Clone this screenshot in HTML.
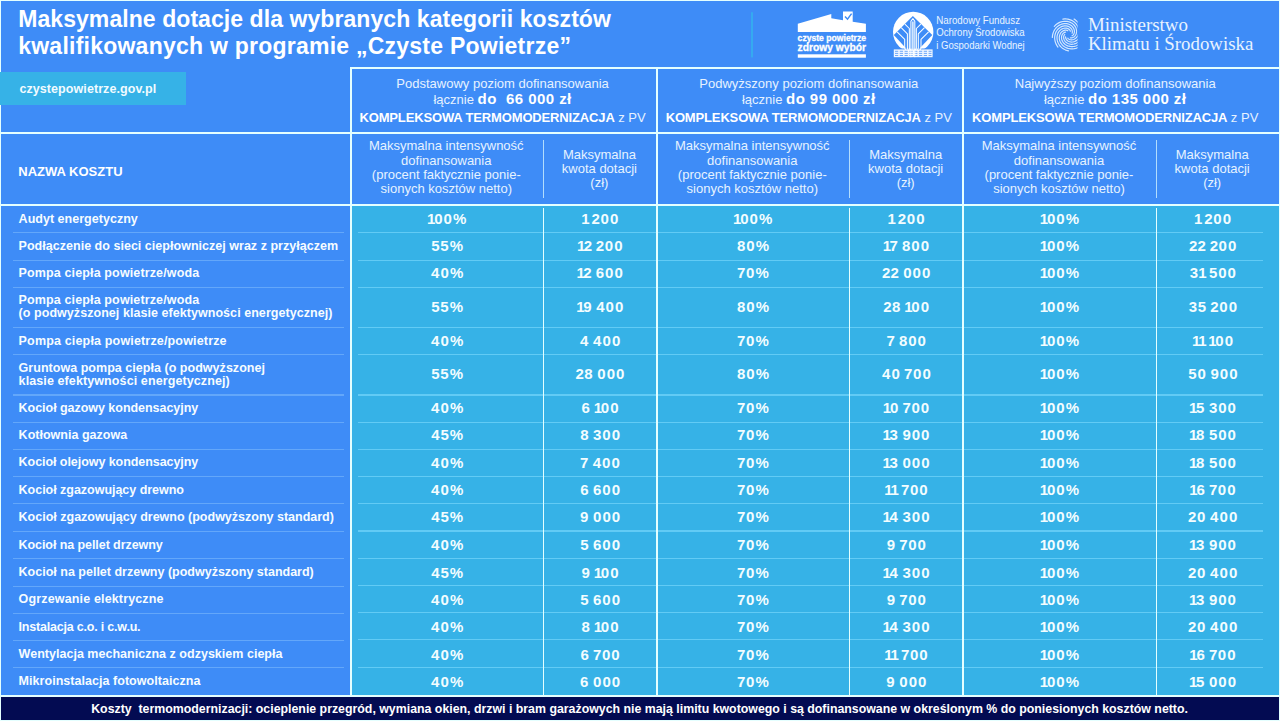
<!DOCTYPE html>
<html lang="pl"><head><meta charset="utf-8"><title>Czyste Powietrze – maksymalne dotacje</title><style>
*{margin:0;padding:0;box-sizing:border-box}
html,body{width:1280px;height:721px;overflow:hidden;background:#3e8cf7}
body{font-family:"Liberation Sans",sans-serif;color:#fff}
#w{position:absolute;left:0;top:0;width:1280px;height:721px;overflow:hidden;background:#3e8cf7}
#w div,#w svg{position:absolute}
.ln{background:#e4ffff}
.t1{left:18.2px;font-weight:bold;font-size:23px;line-height:27px;white-space:nowrap}
.lab{left:18.6px;font-weight:bold;font-size:12.5px;line-height:13.15px;white-space:nowrap;color:#f6fcff}
.num{width:120px;text-align:center;font-weight:bold;font-size:15px;line-height:17px;white-space:nowrap;color:#f3fdff}
.num i{font-style:normal;display:inline-block;text-align:center}
.a{width:9.4px}.d{width:9.2px}.b{width:8.5px}.c{width:6.3px;text-indent:-.3px}.s{width:3.7px}.p{width:14.5px}
.gh{text-align:center;white-space:nowrap;font-size:13px;color:#e6f2ff;width:320px}
.gh b{color:#fff}
.sh{text-align:center;white-space:nowrap;font-size:13px;line-height:14.15px;color:#e6f3ff}
</style></head><body><div id="w">
<div style='left:351px;top:205px;width:929px;height:491px;background:#36b2e7'></div>
<div class='t1' style='top:5.5px;letter-spacing:.07px'>Maksymalne dotacje dla wybranych kategorii kosztów</div>
<div class='t1' style='top:33.3px;letter-spacing:.24px'>kwalifikowanych w programie „Czyste Powietrze”</div>
<div style='left:13px;top:231.95px;width:331px;height:1.1px;background:#63a7fa'></div>
<div style='left:358px;top:231.95px;width:905px;height:1.1px;background:#62cbf5'></div>
<div style='left:13px;top:260.05px;width:331px;height:1.1px;background:#63a7fa'></div>
<div style='left:358px;top:259.95px;width:905px;height:1.1px;background:#62cbf5'></div>
<div style='left:13px;top:286.65px;width:331px;height:1.1px;background:#63a7fa'></div>
<div style='left:358px;top:286.55px;width:905px;height:1.1px;background:#62cbf5'></div>
<div style='left:13px;top:326.95px;width:331px;height:1.1px;background:#63a7fa'></div>
<div style='left:358px;top:326.95px;width:905px;height:1.1px;background:#62cbf5'></div>
<div style='left:13px;top:354.05px;width:331px;height:1.1px;background:#63a7fa'></div>
<div style='left:358px;top:354.05px;width:905px;height:1.1px;background:#62cbf5'></div>
<div style='left:13px;top:394.45px;width:331px;height:1.1px;background:#63a7fa'></div>
<div style='left:358px;top:394.45px;width:905px;height:1.1px;background:#62cbf5'></div>
<div style='left:13px;top:421.65px;width:331px;height:1.1px;background:#63a7fa'></div>
<div style='left:358px;top:421.55px;width:905px;height:1.1px;background:#62cbf5'></div>
<div style='left:13px;top:448.95px;width:331px;height:1.1px;background:#63a7fa'></div>
<div style='left:358px;top:448.95px;width:905px;height:1.1px;background:#62cbf5'></div>
<div style='left:13px;top:475.85px;width:331px;height:1.1px;background:#63a7fa'></div>
<div style='left:358px;top:475.95px;width:905px;height:1.1px;background:#62cbf5'></div>
<div style='left:13px;top:503.05px;width:331px;height:1.1px;background:#63a7fa'></div>
<div style='left:358px;top:503.15px;width:905px;height:1.1px;background:#62cbf5'></div>
<div style='left:13px;top:530.95px;width:331px;height:1.1px;background:#63a7fa'></div>
<div style='left:358px;top:530.45px;width:905px;height:1.1px;background:#62cbf5'></div>
<div style='left:13px;top:557.95px;width:331px;height:1.1px;background:#63a7fa'></div>
<div style='left:358px;top:557.95px;width:905px;height:1.1px;background:#62cbf5'></div>
<div style='left:13px;top:585.65px;width:331px;height:1.1px;background:#63a7fa'></div>
<div style='left:358px;top:585.15px;width:905px;height:1.1px;background:#62cbf5'></div>
<div style='left:13px;top:613.05px;width:331px;height:1.1px;background:#63a7fa'></div>
<div style='left:358px;top:612.25px;width:905px;height:1.1px;background:#62cbf5'></div>
<div style='left:13px;top:639.75px;width:331px;height:1.1px;background:#63a7fa'></div>
<div style='left:358px;top:639.25px;width:905px;height:1.1px;background:#62cbf5'></div>
<div style='left:13px;top:666.95px;width:331px;height:1.1px;background:#63a7fa'></div>
<div style='left:358px;top:666.75px;width:905px;height:1.1px;background:#62cbf5'></div>
<div class='ln' style='left:350px;top:67px;width:930px;height:2px'></div>
<div class='ln' style='left:0;top:132px;width:1280px;height:2px'></div>
<div class='ln' style='left:0;top:204px;width:1280px;height:2px'></div>
<div class='ln' style='left:0;top:695px;width:1280px;height:2px'></div>
<div class='ln' style='left:349.6px;top:67px;width:2.2px;height:629px'></div>
<div class='ln' style='left:656px;top:67px;width:2.2px;height:629px'></div>
<div class='ln' style='left:962px;top:67px;width:2.2px;height:629px'></div>
<div class='ln' style='left:542.85px;top:139.5px;width:1.5px;height:58.5px;opacity:.7'></div>
<div class='ln' style='left:542.85px;top:208px;width:1.5px;height:487px'></div>
<div class='ln' style='left:848.85px;top:139.5px;width:1.5px;height:58.5px;opacity:.7'></div>
<div class='ln' style='left:848.85px;top:208px;width:1.5px;height:487px'></div>
<div class='ln' style='left:1155.65px;top:139.5px;width:1.5px;height:58.5px;opacity:.7'></div>
<div class='ln' style='left:1155.65px;top:208px;width:1.5px;height:487px'></div>
<div class='gh' style='left:342.6px;top:76.3px;line-height:15px'>Podstawowy poziom dofinansowania</div>
<div class='gh' style='left:342.6px;top:89.8px;line-height:18px'>łącznie <b style='font-size:15px;letter-spacing:.45px'>do&nbsp; 66 000 zł</b></div>
<div class='gh' style='left:342.6px;top:110px;line-height:15px'><b style='letter-spacing:-.15px'>KOMPLEKSOWA TERMOMODERNIZACJA</b> z PV</div>
<div class='gh' style='left:648.8px;top:76.3px;line-height:15px'>Podwyższony poziom dofinansowania</div>
<div class='gh' style='left:648.8px;top:89.8px;line-height:18px'>łącznie <b style='font-size:15px;letter-spacing:.45px'>do 99 000 zł</b></div>
<div class='gh' style='left:648.8px;top:110px;line-height:15px'><b style='letter-spacing:-.15px'>KOMPLEKSOWA TERMOMODERNIZACJA</b> z PV</div>
<div class='gh' style='left:955.2px;top:76.3px;line-height:15px'>Najwyższy poziom dofinansowania</div>
<div class='gh' style='left:955.2px;top:89.8px;line-height:18px'>łącznie <b style='font-size:15px;letter-spacing:.45px'>do 135 000 zł</b></div>
<div class='gh' style='left:955.2px;top:110px;line-height:15px'><b style='letter-spacing:-.15px'>KOMPLEKSOWA TERMOMODERNIZACJA</b> z PV</div>
<div class='sh' style='left:346.3px;width:200px;top:139.4px'>Maksymalna intensywność<br>dofinansowania<br>(procent faktycznie ponie-<br>sionych kosztów netto)</div>
<div class='sh' style='left:539.4px;width:120px;top:147.7px'>Maksymalna<br>kwota dotacji<br>(zł)</div>
<div class='sh' style='left:652.3px;width:200px;top:139.4px'>Maksymalna intensywność<br>dofinansowania<br>(procent faktycznie ponie-<br>sionych kosztów netto)</div>
<div class='sh' style='left:845.7px;width:120px;top:147.7px'>Maksymalna<br>kwota dotacji<br>(zł)</div>
<div class='sh' style='left:959.0px;width:200px;top:139.4px'>Maksymalna intensywność<br>dofinansowania<br>(procent faktycznie ponie-<br>sionych kosztów netto)</div>
<div class='sh' style='left:1152.2px;width:120px;top:147.7px'>Maksymalna<br>kwota dotacji<br>(zł)</div>
<div style='left:18.3px;top:164.2px;font-weight:bold;font-size:13px;line-height:15px;white-space:nowrap'>NAZWA KOSZTU</div>
<div class='lab' style='top:212.50px'><span style='letter-spacing:0.024px'>Audyt energetyczny</span></div>
<div class='num' style='left:387.20px;top:210.00px'><i class=c>1</i><i class=a>0</i><i class=a>0</i><i class=p>%</i></div>
<div class='num' style='left:540.15px;top:210.00px'><i class=c>1</i><i class=s> </i><i class=b>2</i><i class=a>0</i><i class=a>0</i></div>
<div class='num' style='left:693.20px;top:210.00px'><i class=c>1</i><i class=a>0</i><i class=a>0</i><i class=p>%</i></div>
<div class='num' style='left:846.40px;top:210.00px'><i class=c>1</i><i class=s> </i><i class=b>2</i><i class=a>0</i><i class=a>0</i></div>
<div class='num' style='left:999.90px;top:210.00px'><i class=c>1</i><i class=a>0</i><i class=a>0</i><i class=p>%</i></div>
<div class='num' style='left:1152.90px;top:210.00px'><i class=c>1</i><i class=s> </i><i class=b>2</i><i class=a>0</i><i class=a>0</i></div>
<div class='lab' style='top:239.50px'><span style='letter-spacing:0.025px'>Podłączenie do sieci ciepłowniczej wraz z przyłączem</span></div>
<div class='num' style='left:387.20px;top:237.00px'><i class=d>5</i><i class=d>5</i><i class=p>%</i></div>
<div class='num' style='left:540.15px;top:237.00px'><i class=c>1</i><i class=b>2</i><i class=s> </i><i class=b>2</i><i class=a>0</i><i class=a>0</i></div>
<div class='num' style='left:693.20px;top:237.00px'><i class=d>8</i><i class=a>0</i><i class=p>%</i></div>
<div class='num' style='left:846.40px;top:237.00px'><i class=c>1</i><i class=b>7</i><i class=s> </i><i class=d>8</i><i class=a>0</i><i class=a>0</i></div>
<div class='num' style='left:999.90px;top:237.00px'><i class=c>1</i><i class=a>0</i><i class=a>0</i><i class=p>%</i></div>
<div class='num' style='left:1152.90px;top:237.00px'><i class=b>2</i><i class=b>2</i><i class=s> </i><i class=b>2</i><i class=a>0</i><i class=a>0</i></div>
<div class='lab' style='top:266.50px'><span style='letter-spacing:0.131px'>Pompa ciepła powietrze/woda</span></div>
<div class='num' style='left:387.20px;top:264.00px'><i class=a>4</i><i class=a>0</i><i class=p>%</i></div>
<div class='num' style='left:540.15px;top:264.00px'><i class=c>1</i><i class=b>2</i><i class=s> </i><i class=d>6</i><i class=a>0</i><i class=a>0</i></div>
<div class='num' style='left:693.20px;top:264.00px'><i class=b>7</i><i class=a>0</i><i class=p>%</i></div>
<div class='num' style='left:846.40px;top:264.00px'><i class=b>2</i><i class=b>2</i><i class=s> </i><i class=a>0</i><i class=a>0</i><i class=a>0</i></div>
<div class='num' style='left:999.90px;top:264.00px'><i class=c>1</i><i class=a>0</i><i class=a>0</i><i class=p>%</i></div>
<div class='num' style='left:1152.90px;top:264.00px'><i class=d>3</i><i class=c>1</i><i class=s> </i><i class=d>5</i><i class=a>0</i><i class=a>0</i></div>
<div class='lab' style='top:293.50px'><span style='letter-spacing:0.131px'>Pompa ciepła powietrze/woda</span><br><span style='letter-spacing:0.053px'>(o podwyższonej klasie efektywności energetycznej)</span></div>
<div class='num' style='left:387.20px;top:298.00px'><i class=d>5</i><i class=d>5</i><i class=p>%</i></div>
<div class='num' style='left:540.15px;top:298.00px'><i class=c>1</i><i class=d>9</i><i class=s> </i><i class=a>4</i><i class=a>0</i><i class=a>0</i></div>
<div class='num' style='left:693.20px;top:298.00px'><i class=d>8</i><i class=a>0</i><i class=p>%</i></div>
<div class='num' style='left:846.40px;top:298.00px'><i class=b>2</i><i class=d>8</i><i class=s> </i><i class=c>1</i><i class=a>0</i><i class=a>0</i></div>
<div class='num' style='left:999.90px;top:298.00px'><i class=c>1</i><i class=a>0</i><i class=a>0</i><i class=p>%</i></div>
<div class='num' style='left:1152.90px;top:298.00px'><i class=d>3</i><i class=d>5</i><i class=s> </i><i class=b>2</i><i class=a>0</i><i class=a>0</i></div>
<div class='lab' style='top:334.50px'><span style='letter-spacing:0.165px'>Pompa ciepła powietrze/powietrze</span></div>
<div class='num' style='left:387.20px;top:332.00px'><i class=a>4</i><i class=a>0</i><i class=p>%</i></div>
<div class='num' style='left:540.15px;top:332.00px'><i class=a>4</i><i class=s> </i><i class=a>4</i><i class=a>0</i><i class=a>0</i></div>
<div class='num' style='left:693.20px;top:332.00px'><i class=b>7</i><i class=a>0</i><i class=p>%</i></div>
<div class='num' style='left:846.40px;top:332.00px'><i class=b>7</i><i class=s> </i><i class=d>8</i><i class=a>0</i><i class=a>0</i></div>
<div class='num' style='left:999.90px;top:332.00px'><i class=c>1</i><i class=a>0</i><i class=a>0</i><i class=p>%</i></div>
<div class='num' style='left:1152.90px;top:332.00px'><i class=c>1</i><i class=c>1</i><i class=s> </i><i class=c>1</i><i class=a>0</i><i class=a>0</i></div>
<div class='lab' style='top:361.50px'><span style='letter-spacing:0.033px'>Gruntowa pompa ciepła (o podwyższonej</span><br><span style='letter-spacing:0.103px'>klasie efektywności energetycznej)</span></div>
<div class='num' style='left:387.20px;top:365.00px'><i class=d>5</i><i class=d>5</i><i class=p>%</i></div>
<div class='num' style='left:540.15px;top:365.00px'><i class=b>2</i><i class=d>8</i><i class=s> </i><i class=a>0</i><i class=a>0</i><i class=a>0</i></div>
<div class='num' style='left:693.20px;top:365.00px'><i class=d>8</i><i class=a>0</i><i class=p>%</i></div>
<div class='num' style='left:846.40px;top:365.00px'><i class=a>4</i><i class=a>0</i><i class=s> </i><i class=b>7</i><i class=a>0</i><i class=a>0</i></div>
<div class='num' style='left:999.90px;top:365.00px'><i class=c>1</i><i class=a>0</i><i class=a>0</i><i class=p>%</i></div>
<div class='num' style='left:1152.90px;top:365.00px'><i class=d>5</i><i class=a>0</i><i class=s> </i><i class=d>9</i><i class=a>0</i><i class=a>0</i></div>
<div class='lab' style='top:401.50px'><span style='letter-spacing:-0.037px'>Kocioł gazowy kondensacyjny</span></div>
<div class='num' style='left:387.20px;top:399.00px'><i class=a>4</i><i class=a>0</i><i class=p>%</i></div>
<div class='num' style='left:540.15px;top:399.00px'><i class=d>6</i><i class=s> </i><i class=c>1</i><i class=a>0</i><i class=a>0</i></div>
<div class='num' style='left:693.20px;top:399.00px'><i class=b>7</i><i class=a>0</i><i class=p>%</i></div>
<div class='num' style='left:846.40px;top:399.00px'><i class=c>1</i><i class=a>0</i><i class=s> </i><i class=b>7</i><i class=a>0</i><i class=a>0</i></div>
<div class='num' style='left:999.90px;top:399.00px'><i class=c>1</i><i class=a>0</i><i class=a>0</i><i class=p>%</i></div>
<div class='num' style='left:1152.90px;top:399.00px'><i class=c>1</i><i class=d>5</i><i class=s> </i><i class=d>3</i><i class=a>0</i><i class=a>0</i></div>
<div class='lab' style='top:428.50px'><span style='letter-spacing:0.013px'>Kotłownia gazowa</span></div>
<div class='num' style='left:387.20px;top:426.00px'><i class=a>4</i><i class=d>5</i><i class=p>%</i></div>
<div class='num' style='left:540.15px;top:426.00px'><i class=d>8</i><i class=s> </i><i class=d>3</i><i class=a>0</i><i class=a>0</i></div>
<div class='num' style='left:693.20px;top:426.00px'><i class=b>7</i><i class=a>0</i><i class=p>%</i></div>
<div class='num' style='left:846.40px;top:426.00px'><i class=c>1</i><i class=d>3</i><i class=s> </i><i class=d>9</i><i class=a>0</i><i class=a>0</i></div>
<div class='num' style='left:999.90px;top:426.00px'><i class=c>1</i><i class=a>0</i><i class=a>0</i><i class=p>%</i></div>
<div class='num' style='left:1152.90px;top:426.00px'><i class=c>1</i><i class=d>8</i><i class=s> </i><i class=d>5</i><i class=a>0</i><i class=a>0</i></div>
<div class='lab' style='top:455.50px'><span style='letter-spacing:-0.059px'>Kocioł olejowy kondensacyjny</span></div>
<div class='num' style='left:387.20px;top:454.00px'><i class=a>4</i><i class=a>0</i><i class=p>%</i></div>
<div class='num' style='left:540.15px;top:454.00px'><i class=b>7</i><i class=s> </i><i class=a>4</i><i class=a>0</i><i class=a>0</i></div>
<div class='num' style='left:693.20px;top:454.00px'><i class=b>7</i><i class=a>0</i><i class=p>%</i></div>
<div class='num' style='left:846.40px;top:454.00px'><i class=c>1</i><i class=d>3</i><i class=s> </i><i class=a>0</i><i class=a>0</i><i class=a>0</i></div>
<div class='num' style='left:999.90px;top:454.00px'><i class=c>1</i><i class=a>0</i><i class=a>0</i><i class=p>%</i></div>
<div class='num' style='left:1152.90px;top:454.00px'><i class=c>1</i><i class=d>8</i><i class=s> </i><i class=d>5</i><i class=a>0</i><i class=a>0</i></div>
<div class='lab' style='top:483.50px'><span style='letter-spacing:-0.025px'>Kocioł zgazowujący drewno</span></div>
<div class='num' style='left:387.20px;top:481.00px'><i class=a>4</i><i class=a>0</i><i class=p>%</i></div>
<div class='num' style='left:540.15px;top:481.00px'><i class=d>6</i><i class=s> </i><i class=d>6</i><i class=a>0</i><i class=a>0</i></div>
<div class='num' style='left:693.20px;top:481.00px'><i class=b>7</i><i class=a>0</i><i class=p>%</i></div>
<div class='num' style='left:846.40px;top:481.00px'><i class=c>1</i><i class=c>1</i><i class=s> </i><i class=b>7</i><i class=a>0</i><i class=a>0</i></div>
<div class='num' style='left:999.90px;top:481.00px'><i class=c>1</i><i class=a>0</i><i class=a>0</i><i class=p>%</i></div>
<div class='num' style='left:1152.90px;top:481.00px'><i class=c>1</i><i class=d>6</i><i class=s> </i><i class=b>7</i><i class=a>0</i><i class=a>0</i></div>
<div class='lab' style='top:510.50px'>Kocioł zgazowujący drewno (podwyższony standard)</div>
<div class='num' style='left:387.20px;top:508.00px'><i class=a>4</i><i class=d>5</i><i class=p>%</i></div>
<div class='num' style='left:540.15px;top:508.00px'><i class=d>9</i><i class=s> </i><i class=a>0</i><i class=a>0</i><i class=a>0</i></div>
<div class='num' style='left:693.20px;top:508.00px'><i class=b>7</i><i class=a>0</i><i class=p>%</i></div>
<div class='num' style='left:846.40px;top:508.00px'><i class=c>1</i><i class=a>4</i><i class=s> </i><i class=d>3</i><i class=a>0</i><i class=a>0</i></div>
<div class='num' style='left:999.90px;top:508.00px'><i class=c>1</i><i class=a>0</i><i class=a>0</i><i class=p>%</i></div>
<div class='num' style='left:1152.90px;top:508.00px'><i class=b>2</i><i class=a>0</i><i class=s> </i><i class=a>4</i><i class=a>0</i><i class=a>0</i></div>
<div class='lab' style='top:538.50px'><span style='letter-spacing:-0.078px'>Kocioł na pellet drzewny</span></div>
<div class='num' style='left:387.20px;top:536.00px'><i class=a>4</i><i class=a>0</i><i class=p>%</i></div>
<div class='num' style='left:540.15px;top:536.00px'><i class=d>5</i><i class=s> </i><i class=d>6</i><i class=a>0</i><i class=a>0</i></div>
<div class='num' style='left:693.20px;top:536.00px'><i class=b>7</i><i class=a>0</i><i class=p>%</i></div>
<div class='num' style='left:846.40px;top:536.00px'><i class=d>9</i><i class=s> </i><i class=b>7</i><i class=a>0</i><i class=a>0</i></div>
<div class='num' style='left:999.90px;top:536.00px'><i class=c>1</i><i class=a>0</i><i class=a>0</i><i class=p>%</i></div>
<div class='num' style='left:1152.90px;top:536.00px'><i class=c>1</i><i class=d>3</i><i class=s> </i><i class=d>9</i><i class=a>0</i><i class=a>0</i></div>
<div class='lab' style='top:565.50px'>Kocioł na pellet drzewny (podwyższony standard)</div>
<div class='num' style='left:387.20px;top:564.00px'><i class=a>4</i><i class=d>5</i><i class=p>%</i></div>
<div class='num' style='left:540.15px;top:564.00px'><i class=d>9</i><i class=s> </i><i class=c>1</i><i class=a>0</i><i class=a>0</i></div>
<div class='num' style='left:693.20px;top:564.00px'><i class=b>7</i><i class=a>0</i><i class=p>%</i></div>
<div class='num' style='left:846.40px;top:564.00px'><i class=c>1</i><i class=a>4</i><i class=s> </i><i class=d>3</i><i class=a>0</i><i class=a>0</i></div>
<div class='num' style='left:999.90px;top:564.00px'><i class=c>1</i><i class=a>0</i><i class=a>0</i><i class=p>%</i></div>
<div class='num' style='left:1152.90px;top:564.00px'><i class=b>2</i><i class=a>0</i><i class=s> </i><i class=a>4</i><i class=a>0</i><i class=a>0</i></div>
<div class='lab' style='top:592.50px'><span style='letter-spacing:0.152px'>Ogrzewanie elektryczne</span></div>
<div class='num' style='left:387.20px;top:591.00px'><i class=a>4</i><i class=a>0</i><i class=p>%</i></div>
<div class='num' style='left:540.15px;top:591.00px'><i class=d>5</i><i class=s> </i><i class=d>6</i><i class=a>0</i><i class=a>0</i></div>
<div class='num' style='left:693.20px;top:591.00px'><i class=b>7</i><i class=a>0</i><i class=p>%</i></div>
<div class='num' style='left:846.40px;top:591.00px'><i class=d>9</i><i class=s> </i><i class=b>7</i><i class=a>0</i><i class=a>0</i></div>
<div class='num' style='left:999.90px;top:591.00px'><i class=c>1</i><i class=a>0</i><i class=a>0</i><i class=p>%</i></div>
<div class='num' style='left:1152.90px;top:591.00px'><i class=c>1</i><i class=d>3</i><i class=s> </i><i class=d>9</i><i class=a>0</i><i class=a>0</i></div>
<div class='lab' style='top:620.50px'><span style='letter-spacing:-0.204px'>Instalacja c.o. i c.w.u.</span></div>
<div class='num' style='left:387.20px;top:618.00px'><i class=a>4</i><i class=a>0</i><i class=p>%</i></div>
<div class='num' style='left:540.15px;top:618.00px'><i class=d>8</i><i class=s> </i><i class=c>1</i><i class=a>0</i><i class=a>0</i></div>
<div class='num' style='left:693.20px;top:618.00px'><i class=b>7</i><i class=a>0</i><i class=p>%</i></div>
<div class='num' style='left:846.40px;top:618.00px'><i class=c>1</i><i class=a>4</i><i class=s> </i><i class=d>3</i><i class=a>0</i><i class=a>0</i></div>
<div class='num' style='left:999.90px;top:618.00px'><i class=c>1</i><i class=a>0</i><i class=a>0</i><i class=p>%</i></div>
<div class='num' style='left:1152.90px;top:618.00px'><i class=b>2</i><i class=a>0</i><i class=s> </i><i class=a>4</i><i class=a>0</i><i class=a>0</i></div>
<div class='lab' style='top:647.50px'><span style='letter-spacing:0.020px'>Wentylacja mechaniczna z odzyskiem ciepła</span></div>
<div class='num' style='left:387.20px;top:646.00px'><i class=a>4</i><i class=a>0</i><i class=p>%</i></div>
<div class='num' style='left:540.15px;top:646.00px'><i class=d>6</i><i class=s> </i><i class=b>7</i><i class=a>0</i><i class=a>0</i></div>
<div class='num' style='left:693.20px;top:646.00px'><i class=b>7</i><i class=a>0</i><i class=p>%</i></div>
<div class='num' style='left:846.40px;top:646.00px'><i class=c>1</i><i class=c>1</i><i class=s> </i><i class=b>7</i><i class=a>0</i><i class=a>0</i></div>
<div class='num' style='left:999.90px;top:646.00px'><i class=c>1</i><i class=a>0</i><i class=a>0</i><i class=p>%</i></div>
<div class='num' style='left:1152.90px;top:646.00px'><i class=c>1</i><i class=d>6</i><i class=s> </i><i class=b>7</i><i class=a>0</i><i class=a>0</i></div>
<div class='lab' style='top:674.50px'><span style='letter-spacing:0.041px'>Mikroinstalacja fotowoltaiczna</span></div>
<div class='num' style='left:387.20px;top:673.00px'><i class=a>4</i><i class=a>0</i><i class=p>%</i></div>
<div class='num' style='left:540.15px;top:673.00px'><i class=d>6</i><i class=s> </i><i class=a>0</i><i class=a>0</i><i class=a>0</i></div>
<div class='num' style='left:693.20px;top:673.00px'><i class=b>7</i><i class=a>0</i><i class=p>%</i></div>
<div class='num' style='left:846.40px;top:673.00px'><i class=d>9</i><i class=s> </i><i class=a>0</i><i class=a>0</i><i class=a>0</i></div>
<div class='num' style='left:999.90px;top:673.00px'><i class=c>1</i><i class=a>0</i><i class=a>0</i><i class=p>%</i></div>
<div class='num' style='left:1152.90px;top:673.00px'><i class=c>1</i><i class=d>5</i><i class=s> </i><i class=a>0</i><i class=a>0</i><i class=a>0</i></div>
<div style='left:0;top:697px;width:1280px;height:22.6px;background:#030b52'></div>
<div style='left:91.2px;top:702.2px;font-weight:bold;font-size:12.355px;line-height:15px;white-space:pre'>Koszty  termomodernizacji: ocieplenie przegród, wymiana okien, drzwi i bram garażowych nie mają limitu kwotowego i są dofinansowane w określonym % do poniesionych kosztów netto.</div>
<div class='ln' style='left:0;top:0;width:1280px;height:1px'></div>
<div class='ln' style='left:0;top:0;width:1.1px;height:721px'></div>
<div style='left:0;top:72px;width:186px;height:32.5px;background:#36b2e7'></div>
<div style='left:19.4px;top:82.4px;font-weight:bold;font-size:12.5px;line-height:15px;letter-spacing:.08px;white-space:nowrap;color:#f1fbff'>czystepowietrze.gov.pl</div>
<div class='ln' style='left:1279px;top:0;width:1px;height:721px'></div>
<div class='ln' style='left:0;top:719.6px;width:1280px;height:1.4px'></div>
<svg style='left:0;top:0' width='1280' height='67' viewBox='0 0 1280 67'>
<rect x='751' y='12.2' width='2' height='45.2' fill='#35aaf0'/>
<path d='M797.8 32V23.8L831.3 14V18.3L843 20.2V11.6H852.7V21.7L865.9 23.8V32Z' fill='#fff'/>
<path d='M845 16.6L847.5 19.2L851.6 13.6' fill='none' stroke='#3e8cf7' stroke-width='1.5'/>
<rect x='797.8' y='54.3' width='68.1' height='3.4' fill='#fff'/>
<text x='797.6' y='41.2' font-family='Liberation Sans, sans-serif' font-weight='bold' font-size='8.6' fill='#fff' stroke='#fff' stroke-width='.3' textLength='68.4' lengthAdjust='spacingAndGlyphs'>czyste powietrze</text>
<text x='797.6' y='50.8' font-family='Liberation Sans, sans-serif' font-weight='bold' font-size='10.2' fill='#fff' stroke='#fff' stroke-width='.3' textLength='68.4' lengthAdjust='spacingAndGlyphs'>zdrowy wybór</text>
<defs><clipPath id='cc'><rect x='890' y='8' width='46' height='40.4'/></clipPath></defs>
<circle cx='913.2' cy='32' r='20.2' fill='#fff' clip-path='url(#cc)'/>
<path d='M912.85 16.1L932.3 35.1L919.5 48.4H906.2L893.8 35.1Z' fill='#3e8cf7'/>
<path d='M910.9 56.5V21.2L912.85 18.6 M904.90 24.05L909.35 28.5V48.2Q909.35 51.5 916.85 52.2 M901.20 27.7L907.40 33.95V48.2Q907.40 51.5 916.85 52.2 M897.10 31.8L904.70 39.4V48.2Q904.70 51.5 916.85 52.2 M914.8000000000001 56.5V21.2L912.85 18.6 M920.80 24.05L916.35 28.5V48.2Q916.35 51.5 908.85 52.2 M924.50 27.7L918.30 33.95V48.2Q918.30 51.5 908.85 52.2 M928.60 31.8L921.00 39.4V48.2Q921.00 51.5 908.85 52.2' fill='none' stroke='#fbfeff' stroke-width='1.05' stroke-linejoin='round'/>
<rect x='911.95' y='21.5' width='1.8' height='35' fill='#cfe6ff'/>
<rect x='893.8' y='49.4' width='38.8' height='7.8' fill='#fff' opacity='.92'/>
<path d='M895 51.3H931.5' stroke='#3e8cf7' stroke-width='0.9' stroke-dasharray='3.2 1.6' opacity='.8'/>
<path d='M895 53.4H931.5' stroke='#3e8cf7' stroke-width='0.9' stroke-dasharray='3.2 1.6' opacity='.8'/>
<path d='M895 55.5H931.5' stroke='#3e8cf7' stroke-width='0.9' stroke-dasharray='3.2 1.6' opacity='.8'/>
<path d='M910.9 57.2V49' stroke='#fff' stroke-width='1'/>
<path d='M914.8000000000001 57.2V49' stroke='#fff' stroke-width='1'/>
<text x='936.3' y='23.7' font-family='Liberation Sans, sans-serif' font-size='10.8' fill='#e9f4ff' textLength='83.7' lengthAdjust='spacingAndGlyphs'>Narodowy Fundusz</text>
<text x='936.3' y='36.3' font-family='Liberation Sans, sans-serif' font-size='10.8' fill='#e9f4ff' textLength='88.4' lengthAdjust='spacingAndGlyphs'>Ochrony Środowiska</text>
<text x='936.3' y='48.8' font-family='Liberation Sans, sans-serif' font-size='10.8' fill='#e9f4ff' textLength='88.4' lengthAdjust='spacingAndGlyphs'>i Gospodarki Wodnej</text>
<defs><clipPath id='mc'><rect x='1048' y='14' width='29.6' height='40'/></clipPath></defs>
<path d='M1084.65 37.35 L1083.92 38.92 L1083.04 40.37 L1082.03 41.69 L1080.90 42.87 L1079.68 43.88 L1078.39 44.74 L1077.05 45.44 L1075.66 45.97 L1074.27 46.33 L1072.88 46.53 L1071.51 46.57 L1070.18 46.46 L1068.91 46.21 L1067.71 45.83 L1066.59 45.33 L1065.57 44.73 L1064.65 44.03 L1063.84 43.26 L1063.15 42.43 L1062.59 41.55 L1062.14 40.64 L1061.82 39.72 L1061.61 38.80 L1061.53 37.90 L1061.55 37.03 L1061.67 36.20 L1061.89 35.43 L1062.18 34.72 L1062.55 34.08 L1062.99 33.53 L1063.46 33.06 L1063.98 32.67 L1064.51 32.38 L1065.05 32.17 L1065.59 32.06 M1079.04 47.06 L1077.47 47.80 L1075.86 48.34 L1074.24 48.70 L1072.62 48.88 L1071.04 48.88 L1069.49 48.71 L1068.02 48.37 L1066.62 47.89 L1065.32 47.27 L1064.12 46.53 L1063.05 45.68 L1062.10 44.74 L1061.28 43.74 L1060.61 42.67 L1060.07 41.57 L1059.68 40.45 L1059.42 39.33 L1059.30 38.22 L1059.31 37.14 L1059.44 36.10 L1059.68 35.12 L1060.03 34.20 L1060.46 33.37 L1060.97 32.62 L1061.55 31.97 L1062.17 31.41 L1062.84 30.96 L1063.52 30.61 L1064.21 30.36 L1064.90 30.21 L1065.57 30.16 L1066.21 30.19 L1066.81 30.31 L1067.35 30.50 L1067.84 30.76 M1068.50 50.90 L1066.82 50.45 L1065.24 49.84 L1063.77 49.07 L1062.42 48.17 L1061.20 47.14 L1060.13 46.02 L1059.21 44.81 L1058.45 43.55 L1057.85 42.24 L1057.41 40.90 L1057.14 39.56 L1057.01 38.23 L1057.04 36.94 L1057.20 35.69 L1057.50 34.50 L1057.92 33.39 L1058.44 32.36 L1059.07 31.43 L1059.77 30.61 L1060.53 29.90 L1061.35 29.30 L1062.20 28.83 L1063.07 28.47 L1063.94 28.22 L1064.80 28.09 L1065.64 28.07 L1066.44 28.15 L1067.19 28.32 L1067.88 28.57 L1068.50 28.90 L1069.05 29.29 L1069.51 29.73 L1069.90 30.20 L1070.19 30.70 L1070.40 31.21 M1057.96 47.06 L1056.96 45.64 L1056.14 44.15 L1055.51 42.62 L1055.05 41.06 L1054.78 39.49 L1054.68 37.94 L1054.76 36.43 L1054.99 34.97 L1055.37 33.58 L1055.89 32.28 L1056.54 31.07 L1057.30 29.97 L1058.15 29.00 L1059.08 28.15 L1060.07 27.43 L1061.11 26.85 L1062.17 26.40 L1063.24 26.09 L1064.31 25.91 L1065.35 25.85 L1066.36 25.92 L1067.32 26.10 L1068.22 26.38 L1069.04 26.76 L1069.78 27.21 L1070.44 27.73 L1071.00 28.31 L1071.47 28.92 L1071.83 29.56 L1072.10 30.21 L1072.27 30.86 L1072.35 31.50 L1072.33 32.10 L1072.24 32.68 L1072.07 33.20 M1052.35 37.35 L1052.50 35.62 L1052.83 33.95 L1053.33 32.37 L1053.98 30.88 L1054.78 29.51 L1055.70 28.26 L1056.73 27.14 L1057.85 26.18 L1059.03 25.36 L1060.27 24.69 L1061.54 24.19 L1062.83 23.83 L1064.11 23.63 L1065.37 23.58 L1066.59 23.67 L1067.76 23.89 L1068.86 24.23 L1069.88 24.68 L1070.81 25.22 L1071.65 25.85 L1072.38 26.55 L1072.99 27.31 L1073.50 28.10 L1073.89 28.92 L1074.17 29.74 L1074.34 30.56 L1074.40 31.36 L1074.36 32.13 L1074.23 32.86 L1074.01 33.53 L1073.73 34.13 L1073.38 34.67 L1072.98 35.13 L1072.54 35.51 L1072.07 35.80 M1054.30 26.30 L1055.52 25.07 L1056.85 24.01 L1058.25 23.12 L1059.71 22.40 L1061.20 21.86 L1062.71 21.49 L1064.21 21.30 L1065.69 21.28 L1067.12 21.41 L1068.50 21.70 L1069.80 22.13 L1071.01 22.68 L1072.12 23.35 L1073.12 24.12 L1074.00 24.97 L1074.75 25.89 L1075.38 26.86 L1075.87 27.86 L1076.23 28.88 L1076.47 29.90 L1076.58 30.90 L1076.56 31.88 L1076.44 32.81 L1076.22 33.69 L1075.90 34.50 L1075.50 35.24 L1075.03 35.89 L1074.51 36.45 L1073.94 36.92 L1073.35 37.30 L1072.74 37.58 L1072.13 37.77 L1071.52 37.86 L1070.95 37.87 L1070.40 37.79 M1062.89 19.09 L1064.62 18.94 L1066.32 18.97 L1067.97 19.19 L1069.54 19.58 L1071.04 20.12 L1072.43 20.81 L1073.70 21.63 L1074.85 22.56 L1075.86 23.59 L1076.73 24.69 L1077.45 25.86 L1078.02 27.06 L1078.44 28.29 L1078.71 29.52 L1078.84 30.74 L1078.82 31.93 L1078.68 33.07 L1078.41 34.15 L1078.04 35.17 L1077.56 36.10 L1077.00 36.94 L1076.36 37.68 L1075.67 38.31 L1074.93 38.84 L1074.17 39.26 L1073.39 39.56 L1072.61 39.76 L1071.85 39.86 L1071.11 39.86 L1070.42 39.76 L1069.77 39.58 L1069.18 39.33 L1068.66 39.02 L1068.21 38.65 L1067.84 38.24 M1074.11 19.09 L1075.53 20.08 L1076.81 21.20 L1077.93 22.43 L1078.89 23.74 L1079.68 25.12 L1080.31 26.54 L1080.76 27.98 L1081.04 29.44 L1081.15 30.87 L1081.11 32.28 L1080.91 33.63 L1080.57 34.92 L1080.11 36.13 L1079.52 37.25 L1078.84 38.26 L1078.06 39.16 L1077.22 39.95 L1076.32 40.61 L1075.38 41.14 L1074.41 41.55 L1073.44 41.83 L1072.48 41.99 L1071.54 42.03 L1070.64 41.96 L1069.78 41.79 L1068.99 41.52 L1068.27 41.18 L1067.62 40.76 L1067.06 40.28 L1066.58 39.76 L1066.20 39.21 L1065.91 38.64 L1065.72 38.06 L1065.61 37.49 L1065.59 36.94 M1082.70 26.30 L1083.15 27.98 L1083.41 29.65 L1083.49 31.31 L1083.38 32.94 L1083.10 34.50 L1082.66 35.99 L1082.08 37.39 L1081.36 38.68 L1080.52 39.85 L1079.59 40.90 L1078.56 41.81 L1077.48 42.58 L1076.34 43.21 L1075.18 43.69 L1074.00 44.03 L1072.83 44.22 L1071.68 44.28 L1070.56 44.20 L1069.50 44.01 L1068.50 43.70 L1067.58 43.29 L1066.74 42.79 L1065.99 42.22 L1065.34 41.59 L1064.80 40.91 L1064.36 40.20 L1064.03 39.46 L1063.80 38.73 L1063.68 38.00 L1063.65 37.30 L1063.71 36.63 L1063.86 36.01 L1064.08 35.44 L1064.36 34.93 L1064.70 34.50' fill='none' stroke='#d2e7ff' stroke-width='1.2' stroke-linecap='round' stroke-linejoin='round' clip-path='url(#mc)'/>
<text x='1088' y='31' font-family='Liberation Serif, serif' font-size='19' fill='#e8f3ff' textLength='100' lengthAdjust='spacingAndGlyphs'>Ministerstwo</text>
<text x='1088' y='49.6' font-family='Liberation Serif, serif' font-size='19' fill='#e8f3ff' textLength='165.3' lengthAdjust='spacingAndGlyphs'>Klimatu i Środowiska</text>
</svg>
</div></body></html>
